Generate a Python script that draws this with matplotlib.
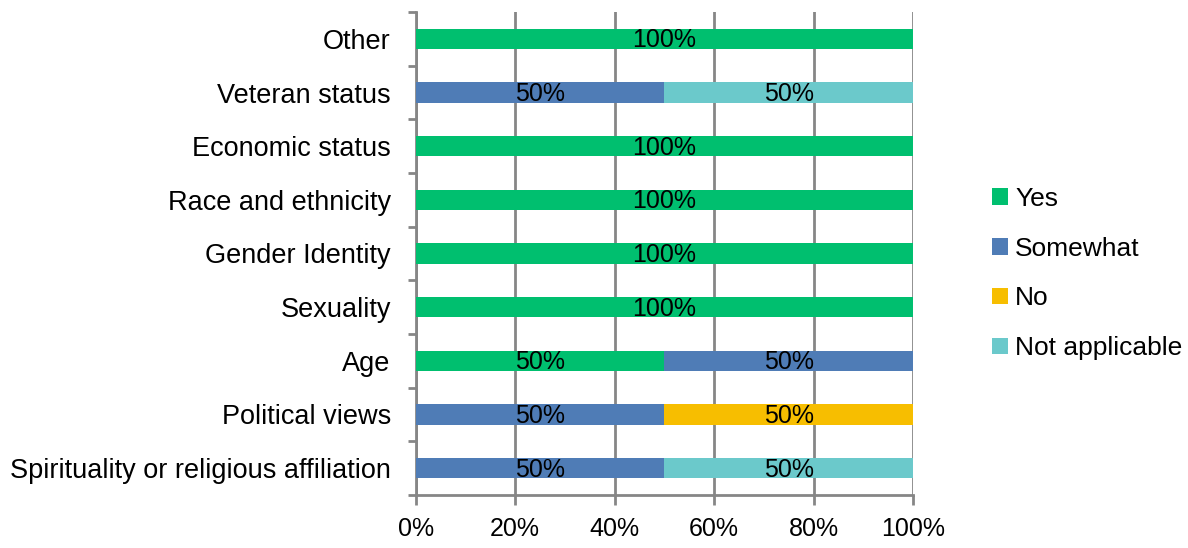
import numpy as np
import matplotlib
matplotlib.use("Agg")
import matplotlib.pyplot as plt
from matplotlib.patches import Patch
from matplotlib.ticker import FixedLocator, PercentFormatter

plt.rcParams['font.family'] = ['Liberation Sans', 'DejaVu Sans']

### data, bottom to top
categories = ["Spirituality or religious affiliation", "Political views", "Age",
              "Sexuality", "Gender Identity", "Race and ethnicity",
              "Economic status", "Veteran status", "Other"]
yes_vals      = [0, 0, 50, 100, 100, 100, 100, 0, 100]
somewhat_vals = [50, 50, 50, 0, 0, 0, 0, 50, 0]
no_vals       = [0, 50, 0, 0, 0, 0, 0, 0, 0]
na_vals       = [50, 0, 0, 0, 0, 0, 0, 50, 0]
series_names  = ["Yes", "Somewhat", "No", "Not applicable"]
colors        = ["#00BF6F", "#4F7CB6", "#F7BE00", "#6BC9CB"]
xtick_vals    = [0, 20, 40, 60, 80, 100]

fs = 18
gray = "#868686"
fig = plt.figure(figsize=(11.88, 5.48), dpi=100)
ax = fig.add_axes([0.350, 0.097, 0.4185, 0.881])

ypos = np.arange(len(categories))
left = np.zeros(len(categories))
for name, vals, c in zip(series_names, [yes_vals, somewhat_vals, no_vals, na_vals], colors):
    vals = np.array(vals, dtype=float)
    ax.barh(ypos, vals, left=left, height=0.38, color=c, zorder=3)
    for y, l, v in zip(ypos, left, vals):
        if v > 0:
            ax.text(l + v/2, y - 0.03, "%d%%" % v, ha='center', va='center',
                    fontsize=fs, color='black', zorder=4)
    left += vals

ax.set_xlim(0, 100)
ax.set_ylim(-0.5, len(categories)-0.5)
ax.set_xticks(xtick_vals)
ax.xaxis.set_major_formatter(PercentFormatter(decimals=0))
ax.set_yticks(ypos)
ax.set_yticklabels(categories)
ax.yaxis.set_minor_locator(FixedLocator(np.arange(-0.5, len(categories), 1.0)))

ax.grid(axis='x', color=gray, lw=2, zorder=0)
for s in ['top', 'right']:
    ax.spines[s].set_visible(False)
for s in ['left', 'bottom']:
    ax.spines[s].set_color(gray)
    ax.spines[s].set_linewidth(2)

ax.tick_params(axis='y', which='major', length=0, pad=18, labelsize=19.5)
ax.tick_params(axis='y', which='minor', length=5.5, width=2, color=gray)
ax.tick_params(axis='x', length=7, width=2, color=gray, labelsize=fs, pad=9)

handles = [Patch(facecolor=c, edgecolor='none') for c in colors]
fig.legend(handles, series_names, loc='center left', bbox_to_anchor=(0.815, 0.501),
           frameon=False, fontsize=19, handlelength=0.6, handleheight=0.6,
           handletextpad=0.28, labelspacing=0.98)

fig.savefig("out.png", dpi=100)
